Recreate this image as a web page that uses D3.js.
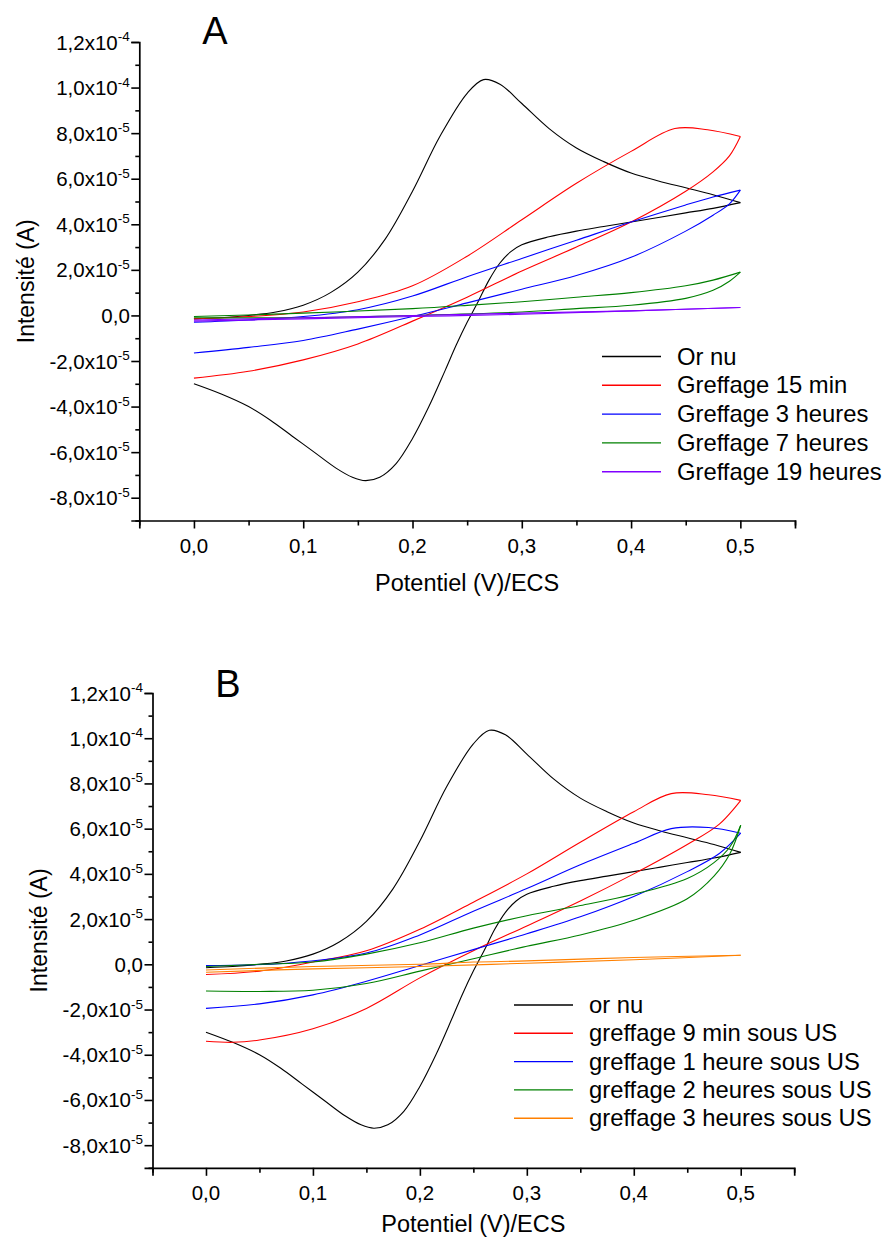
<!DOCTYPE html>
<html><head><meta charset="utf-8">
<script src="https://cdn.jsdelivr.net/npm/d3@7"></script>
<style>
html,body{margin:0;padding:0;background:#fff;}
svg{display:block;font-family:"Liberation Sans",Arial,sans-serif;}
</style></head>
<body>
<svg id="chart" width="885" height="1239"></svg>
<script>
// ---------- DATA (current in units of 1e-5 A, potential in V) ----------
const xTicks = [0, 0.1, 0.2, 0.3, 0.4, 0.5];
const xTickLabels = ["0,0", "0,1", "0,2", "0,3", "0,4", "0,5"];
const yTicks = [12, 10, 8, 6, 4, 2, 0, -2, -4, -6, -8];
const yTickMant = ["1,2x10", "1,0x10", "8,0x10", "6,0x10", "4,0x10", "2,0x10", "0,0", "-2,0x10", "-4,0x10", "-6,0x10", "-8,0x10"];
const yTickExp = ["-4", "-4", "-5", "-5", "-5", "-5", "", "-5", "-5", "-5", "-5"];

// Panel A
const orNuFwd = [[0,-0.15],[0.025,-0.1],[0.05,0.0],[0.075,0.15],[0.1,0.45],[0.125,1.0],[0.15,1.9],[0.175,3.35],[0.2,5.45],[0.225,7.85],[0.25,9.75],[0.265,10.35],[0.28,10.15],[0.3,9.3],[0.325,8.2],[0.35,7.35],[0.375,6.75],[0.4,6.25],[0.425,5.9],[0.45,5.6],[0.475,5.3],[0.5,4.95]];
const orNuRev = [[0.5,4.95],[0.475,4.7],[0.45,4.5],[0.425,4.3],[0.4,4.1],[0.375,3.9],[0.35,3.7],[0.325,3.45],[0.3,3.1],[0.29,2.8],[0.28,2.3],[0.27,1.55],[0.26,0.6],[0.25,-0.3],[0.24,-1.3],[0.23,-2.4],[0.215,-4.0],[0.2,-5.4],[0.185,-6.5],[0.17,-7.1],[0.157,-7.25],[0.145,-7.1],[0.13,-6.7],[0.11,-6.0],[0.09,-5.3],[0.07,-4.6],[0.05,-4.0],[0.025,-3.45],[0,-3.0]];
const g15minFwd = [[0,-0.15],[0.05,-0.05],[0.1,0.15],[0.15,0.6],[0.2,1.3],[0.25,2.6],[0.3,4.2],[0.35,5.8],[0.4,7.2],[0.44,8.2],[0.47,8.15],[0.5,7.85]];
const g15minRev = [[0.5,7.85],[0.49,7.0],[0.475,6.3],[0.45,5.45],[0.4,4.1],[0.35,3.0],[0.3,1.95],[0.25,0.8],[0.2,-0.25],[0.15,-1.25],[0.1,-1.95],[0.05,-2.45],[0,-2.75]];
const g3hFwd = [[0,-0.3],[0.05,-0.2],[0.1,-0.05],[0.15,0.25],[0.2,0.85],[0.25,1.7],[0.3,2.5],[0.35,3.3],[0.4,4.1],[0.45,4.85],[0.475,5.2],[0.5,5.5]];
const g3hRev = [[0.5,5.5],[0.49,4.9],[0.475,4.4],[0.45,3.7],[0.4,2.55],[0.35,1.75],[0.3,1.15],[0.25,0.55],[0.2,-0.05],[0.15,-0.6],[0.1,-1.1],[0.05,-1.4],[0,-1.65]];
const g7hFwd = [[0,-0.05],[0.1,0.1],[0.2,0.3],[0.25,0.44],[0.3,0.6],[0.35,0.8],[0.4,1.0],[0.45,1.3],[0.475,1.55],[0.5,1.9]];
const g7hRev = [[0.5,1.9],[0.49,1.5],[0.475,1.1],[0.45,0.75],[0.4,0.45],[0.35,0.3],[0.3,0.15],[0.2,0.0],[0.1,-0.1],[0,-0.1]];
const g19hFwd = [[0,-0.2],[0.1,-0.1],[0.2,0.0],[0.3,0.1],[0.4,0.2],[0.5,0.35]];
const g19hRev = [[0.5,0.35],[0.4,0.2],[0.3,0.05],[0.2,-0.05],[0.1,-0.15],[0,-0.25]];

// Panel B
const us9minFwd = [[0,-0.45],[0.05,-0.3],[0.1,0.1],[0.15,0.6],[0.2,1.55],[0.25,2.75],[0.3,4.0],[0.35,5.4],[0.4,6.75],[0.435,7.55],[0.47,7.5],[0.5,7.25]];
const us9minRev = [[0.5,7.25],[0.48,6.2],[0.45,5.3],[0.4,4.0],[0.35,2.8],[0.3,1.7],[0.25,0.6],[0.2,-0.6],[0.15,-1.95],[0.1,-2.85],[0.05,-3.35],[0.025,-3.45],[0,-3.4]];
const us1hFwd = [[0,-0.05],[0.075,0.05],[0.15,0.5],[0.2,1.3],[0.25,2.35],[0.3,3.35],[0.35,4.4],[0.4,5.35],[0.435,6.0],[0.47,6.05],[0.5,5.8]];
const us1hRev = [[0.5,5.8],[0.48,4.9],[0.45,4.1],[0.4,3.0],[0.35,2.1],[0.3,1.35],[0.25,0.65],[0.2,-0.05],[0.15,-0.75],[0.1,-1.35],[0.05,-1.75],[0,-1.95]];
const us2hFwd = [[0,-0.1],[0.05,0.0],[0.1,0.1],[0.15,0.45],[0.2,0.95],[0.25,1.6],[0.3,2.15],[0.35,2.6],[0.4,3.1],[0.45,3.8],[0.475,4.5],[0.49,5.2],[0.5,6.15]];
const us2hRev = [[0.5,6.15],[0.49,4.9],[0.475,3.9],[0.45,2.9],[0.4,1.95],[0.35,1.3],[0.3,0.8],[0.25,0.25],[0.2,-0.3],[0.15,-0.85],[0.1,-1.15],[0.05,-1.2],[0,-1.18]];
const us3hFwd = [[0,-0.25],[0.1,-0.1],[0.2,0.0],[0.25,0.1],[0.3,0.15],[0.4,0.3],[0.5,0.4]];
const us3hRev = [[0.5,0.4],[0.4,0.2],[0.3,0.05],[0.2,-0.1],[0.1,-0.2],[0,-0.35]];

const legendA = ["Or nu", "Greffage 15 min", "Greffage 3 heures", "Greffage 7 heures", "Greffage 19 heures"];
const legendB = ["or nu", "greffage 9 min sous US", "greffage 1 heure sous US", "greffage 2 heures sous US", "greffage 3 heures sous US"];
const colorsA = ["#000000", "#ff0000", "#0000ff", "#008000", "#8000ff"];
const colorsB = ["#000000", "#ff0000", "#0000ff", "#008000", "#ff8000"];
const seriesA = [[orNuFwd, orNuRev], [g15minFwd, g15minRev], [g3hFwd, g3hRev], [g7hFwd, g7hRev], [g19hFwd, g19hRev]];
const seriesB = [[orNuFwd, orNuRev], [us9minFwd, us9minRev], [us1hFwd, us1hRev], [us2hFwd, us2hRev], [us3hFwd, us3hRev]];

// ---------- DRAW ----------
const svg = d3.select("#chart");

function panel(cfg) {
  const x = d3.scaleLinear().domain([-0.05, 0.55]).range([cfg.left, cfg.right]);
  const y = d3.scaleLinear().domain([-9, 12]).range([cfg.bottom, cfg.top]);
  const g = svg.append("g");

  // curves
  const line = d3.line().x(d => x(d[0])).y(d => y(d[1])).curve(d3.curveCatmullRom.alpha(0.5));
  cfg.series.forEach((s, i) => {
    s.forEach(branch => {
      const pts = branch.slice().sort((a, b) => a[0] - b[0]);
      g.append("path").attr("d", line(pts)).attr("fill", "none")
        .attr("stroke", cfg.colors[i]).attr("stroke-width", 1.1);
    });
  });

  // y axis
  const yMinor = d3.range(-9, 12.01, 1).filter(v => Math.abs(v % 2) === 1);
  g.append("g").attr("transform", `translate(${cfg.left},0)`)
    .call(d3.axisLeft(y).tickValues(yTicks).tickSize(8).tickFormat(""));
  g.append("g").attr("transform", `translate(${cfg.left},0)`)
    .call(d3.axisLeft(y).tickValues(yMinor).tickSize(4).tickFormat("").tickSizeOuter(0))
    .select(".domain").remove();
  yTicks.forEach((v, i) => {
    const t = g.append("text").attr("x", cfg.left - 9.5).attr("y", y(v) + 7.5)
      .attr("text-anchor", "end").attr("font-size", 20.5).attr("fill", "#000");
    t.append("tspan").text(yTickMant[i]);
    if (yTickExp[i]) t.append("tspan").attr("dy", -8.5).attr("font-size", 13.5).text(yTickExp[i]);
  });

  // x axis
  const xMinor = d3.range(-0.05, 0.5501, 0.1).map(v => +v.toFixed(2));
  g.append("g").attr("transform", `translate(0,${cfg.bottom})`)
    .call(d3.axisBottom(x).tickValues(xTicks).tickSize(8).tickFormat(""));
  g.append("g").attr("transform", `translate(0,${cfg.bottom})`)
    .call(d3.axisBottom(x).tickValues(xMinor).tickSize(5).tickFormat("").tickSizeOuter(0))
    .select(".domain").remove();
  xTicks.forEach((v, i) => {
    g.append("text").attr("x", x(v)).attr("y", cfg.bottom + 32.5)
      .attr("text-anchor", "middle").attr("font-size", 20.5).text(xTickLabels[i]);
  });

  g.selectAll(".domain").attr("stroke", "#000").attr("stroke-width", 1.7);
  g.selectAll(".tick line").attr("stroke", "#000").attr("stroke-width", 1.6);

  // axis titles
  g.append("text").attr("x", (cfg.left + cfg.right) / 2).attr("y", cfg.xtY)
    .attr("text-anchor", "middle").attr("font-size", 23.5).text("Potentiel (V)/ECS");
  g.append("text").attr("transform", `translate(${cfg.ytX},${(cfg.top + cfg.bottom) / 2}) rotate(-90)`)
    .attr("text-anchor", "middle").attr("font-size", 23).text("Intensité (A)");

  // panel letter
  g.append("text").attr("x", cfg.letterX).attr("y", cfg.letterY).attr("text-anchor", "middle")
    .attr("font-size", 38).text(cfg.letter);

  // legend
  cfg.legend.forEach((lab, i) => {
    const ly = cfg.legY + i * cfg.legDy;
    g.append("line").attr("x1", cfg.legX).attr("x2", cfg.legX + 59).attr("y1", ly).attr("y2", ly)
      .attr("stroke", cfg.colors[i]).attr("stroke-width", 1.4);
    g.append("text").attr("x", cfg.legX + 75).attr("y", ly + 8).attr("font-size", 23.8).text(lab);
  });
}

panel({left: 139.3, right: 795, top: 42, bottom: 520.5, series: seriesA, colors: colorsA, xtY: 591,
  legend: legendA, legX: 602, legY: 356.5, legDy: 28.8, letter: "A", letterX: 215, letterY: 44, ytX: 34});
panel({left: 152.5, right: 794.2, top: 693, bottom: 1167.8, series: seriesB, colors: colorsB, xtY: 1232,
  legend: legendB, legX: 514, legY: 1005, legDy: 28.3, letter: "B", letterX: 228, letterY: 697, ytX: 47});
</script>
</body></html>
